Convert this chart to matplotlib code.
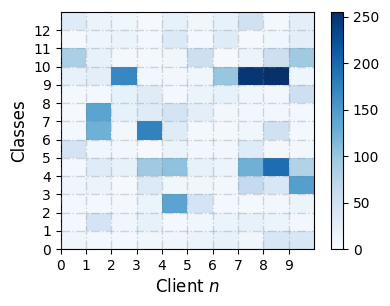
import numpy as np
import matplotlib
matplotlib.use("Agg")
import matplotlib.pyplot as plt

clients = list(range(10))
classes = list(range(13))
# rows: class 0 .. 12 ; columns: client 0 .. 9
class0  = [10, 5, 5, 10, 10, 15, 20, 10, 40, 40]
class1  = [5, 45, 10, 20, 5, 10, 15, 20, 15, 8]
class2  = [5, 5, 5, 15, 140, 45, 5, 5, 8, 15]
class3  = [12, 15, 3, 35, 10, 10, 8, 65, 40, 145]
class4  = [5, 30, 20, 95, 105, 20, 15, 125, 195, 80]
class5  = [45, 10, 8, 3, 15, 8, 8, 30, 8, 8]
class6  = [5, 125, 8, 175, 30, 5, 5, 10, 50, 5]
class7  = [3, 140, 20, 30, 45, 25, 8, 8, 8, 5]
class8  = [5, 5, 20, 30, 5, 15, 20, 10, 8, 55]
class9  = [20, 25, 170, 8, 8, 10, 100, 250, 255, 12]
class10 = [85, 20, 5, 5, 10, 55, 3, 15, 55, 95]
class11 = [3, 12, 15, 5, 35, 5, 30, 3, 10, 25]
class12 = [30, 15, 10, 3, 20, 10, 20, 50, 5, 25]

data = np.array([class0, class1, class2, class3, class4, class5, class6,
                 class7, class8, class9, class10, class11, class12])

fig = plt.figure(figsize=(3.9, 3.06), dpi=100)
ax = fig.add_axes([0.156, 0.186, 0.649, 0.775])
cax = fig.add_axes([0.849, 0.186, 0.031, 0.775])

mesh = ax.pcolormesh(np.arange(11), np.arange(14), data, cmap="Blues", vmin=0, vmax=255)
ax.set_xlim(0, 10)
ax.set_ylim(0, 13)
ax.set_xticks(clients)
ax.set_yticks(classes)
ax.grid(True, linestyle="-.", color="gray", alpha=0.3, linewidth=1)
ax.set_axisbelow(False)
ax.set_xlabel("Client $n$", fontsize=12)
ax.set_ylabel("Classes", fontsize=12)
ax.tick_params(labelsize=10)

cb = fig.colorbar(mesh, cax=cax)
cb.set_ticks([0, 50, 100, 150, 200, 250])
cb.ax.tick_params(labelsize=10)

fig.savefig("out.png", dpi=100)
